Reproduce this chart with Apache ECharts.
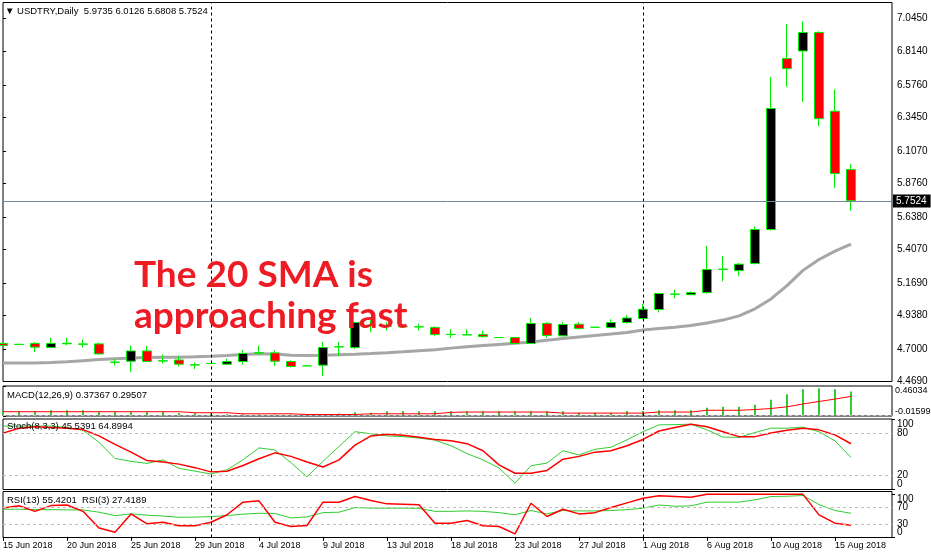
<!DOCTYPE html>
<html><head><meta charset="utf-8">
<script src="https://cdn.jsdelivr.net/npm/echarts@6/dist/echarts.min.js"></script>
<style>html,body{margin:0;padding:0;background:#fff}#c{width:931px;height:559px}</style>
</head><body><div id="c"></div>
<script>
// ---------- DATA ----------
const symbolName = 'USDTRY,Daily';
const barDates = ['15 Jun 2018','17 Jun 2018','18 Jun 2018','19 Jun 2018','20 Jun 2018','21 Jun 2018','22 Jun 2018','24 Jun 2018','25 Jun 2018','26 Jun 2018','27 Jun 2018','28 Jun 2018','29 Jun 2018',
 '1 Jul 2018','2 Jul 2018','3 Jul 2018','4 Jul 2018','5 Jul 2018','6 Jul 2018','8 Jul 2018','9 Jul 2018','10 Jul 2018','11 Jul 2018','12 Jul 2018','13 Jul 2018','15 Jul 2018','16 Jul 2018','17 Jul 2018','18 Jul 2018','19 Jul 2018','20 Jul 2018','22 Jul 2018','23 Jul 2018','24 Jul 2018','25 Jul 2018','26 Jul 2018','27 Jul 2018','29 Jul 2018','30 Jul 2018','31 Jul 2018',
 '1 Aug 2018','2 Aug 2018','3 Aug 2018','5 Aug 2018','6 Aug 2018','7 Aug 2018','8 Aug 2018','9 Aug 2018','10 Aug 2018','12 Aug 2018','13 Aug 2018','14 Aug 2018','15 Aug 2018','16 Aug 2018'];
const opens  = [4.739,4.732,4.739,4.711,4.737,4.736,4.736,4.605,4.613,4.686,4.614,4.622,4.586,4.597,4.592,4.611,4.671,4.672,4.611,4.580,4.585,4.714,4.710,4.868,4.861,4.858,4.856,4.852,4.802,4.800,4.803,4.781,4.781,4.739,4.881,4.793,4.876,4.854,4.852,4.888,4.916,4.980,5.088,5.085,5.101,5.265,5.257,5.307,5.548,6.762,6.816,6.947,6.388,5.9735];
const closes = [4.725,4.733,4.713,4.739,4.741,4.733,4.665,4.607,4.686,4.611,4.616,4.592,4.588,4.597,4.611,4.668,4.673,4.613,4.576,4.580,4.710,4.716,4.888,4.870,4.863,4.858,4.858,4.803,4.804,4.801,4.789,4.781,4.739,4.881,4.796,4.874,4.845,4.854,4.888,4.920,4.982,5.094,5.090,5.100,5.264,5.267,5.302,5.548,6.407,6.691,6.947,6.336,5.946,5.7524];
const lows   = [4.720,4.728,4.679,4.705,4.727,4.710,4.660,4.583,4.537,4.611,4.597,4.575,4.558,4.595,4.590,4.590,4.660,4.580,4.569,4.578,4.509,4.650,4.700,4.820,4.830,4.850,4.830,4.790,4.780,4.799,4.780,4.779,4.735,4.739,4.780,4.790,4.840,4.852,4.850,4.880,4.910,4.960,5.060,5.083,5.091,5.181,5.220,5.300,5.540,6.561,6.454,6.282,5.844,5.6808];
const highs  = [4.745,4.738,4.750,4.779,4.779,4.767,4.745,4.629,4.725,4.720,4.661,4.652,4.603,4.600,4.630,4.692,4.725,4.690,4.620,4.582,4.750,4.750,4.890,4.910,4.890,4.866,4.880,4.860,4.840,4.840,4.830,4.784,4.785,4.920,4.890,4.890,4.890,4.856,4.911,4.940,5.020,5.094,5.120,5.110,5.432,5.359,5.310,5.570,6.632,7.006,7.027,6.956,6.544,6.0126];
const sma20  = [4.601,4.601,4.601,4.604,4.609,4.617,4.625,4.631,4.636,4.639,4.641,4.642,4.644,4.648,4.653,4.660,4.666,4.664,4.656,4.654,4.655,4.659,4.662,4.667,4.673,4.680,4.688,4.695,4.706,4.716,4.724,4.732,4.740,4.750,4.762,4.774,4.785,4.796,4.806,4.817,4.835,4.846,4.855,4.866,4.885,4.905,4.935,4.985,5.055,5.150,5.258,5.335,5.395,5.444];
const macdMain   = [0.060,0.058,0.064,0.075,0.075,0.075,0.047,0.047,0.047,0.047,0.047,0.030,0.030,0.025,0.013,0.013,0.008,0.008,0.006,0.001,0.005,0.025,0.042,0.036,0.058,0.064,0.058,0.058,0.058,0.058,0.058,0.058,0.058,0.058,0.058,0.058,0.036,0.036,0.036,0.064,0.064,0.075,0.075,0.075,0.114,0.130,0.130,0.164,0.242,0.331,0.409,0.426,0.409,0.37367];
const macdSignal = [0.052,0.052,0.052,0.052,0.052,0.052,0.052,0.052,0.052,0.052,0.052,0.052,0.036,0.036,0.036,0.019,0.019,0.019,0.019,0.008,0.008,0.008,0.008,0.019,0.019,0.019,0.019,0.019,0.042,0.047,0.047,0.047,0.047,0.047,0.047,0.030,0.030,0.030,0.030,0.030,0.030,0.047,0.047,0.047,0.075,0.075,0.075,0.086,0.103,0.130,0.175,0.214,0.253,0.29507];
const stochMain   = [90,90,90,90,88,84,67,44,40,37,42,30,26,22,28,42,59,56,38,18,40,61,82,79,76,75,73,70,62,51,42,30.4,9,33.7,37.5,55,49,57,60,70.5,82,91.7,92,92.7,84.6,74.3,74,80.8,87,87,88.4,82,69,45.5391];
const stochSignal = [80,87,89,88,87,85,76,64,53,41,39,36,31,25,26,34,43.6,52,47,39,32,42,63,76,78.5,77,74,71,69,65,55,35,23,23,27,43,47,53,55,62,71,83,88,92.7,89,82,75,75,80,84,87,84.6,77.5,64.8994];
const rsi13 = [65,65,64,64,63.5,63.5,58,50,54,51,49,46,46.5,47.5,50,53.5,55.5,55,44.5,47,57,58,69,67.5,67.5,67.5,67,60,60,61,60,57,52,62,54,62,61,61,62,64,67.5,75,72,73,81.6,81.6,81.6,87,94.9,95.5,97.3,76,62,55.4201];
const rsi3  = [68,73,60,73.5,75,60,21,11,54,30.6,34.5,26,26,34.5,52,81.6,84.7,34.5,24.3,26.7,81.6,81.6,94.9,85.5,77.6,76.5,75.3,32.2,32.2,38.4,26,24.3,7,79,47.8,65,54,57,69,80,91,96.5,95,93.3,100,100,100,100,100,100,100,51.8,32.2,27.4189];
const separatorBars = [13, 40];
const priceTicks = ['4.4690','4.7000','4.9380','5.1690','5.4070','5.6380','5.8760','6.1070','6.3450','6.5760','6.8140','7.0450'];
const macdTicks = [-0.01599, 0.46034];
const oscEdgeTicks = [0, 100];
const stochLevels = [80, 20];
const rsiLevels = [70, 30];
const dateLabelStep = 4;
const noteText = 'The 20 SMA is\napproaching fast';

// ---------- BUILD ----------
const last = closes.length - 1;
const candleData = opens.map((o, i) => [i, o, closes[i], lows[i], highs[i]]);
const idx = a => a.map((v, i) => [i, v]);
const XMAX = 889 / 16;
const FONT = 'Liberation Sans';
const GREEN = '#32cd32';
const sepLines = separatorBars.map(b => ({ xAxis: b, label: { show: false },
  lineStyle: { color: '#000', type: [3, 3], width: 1 } }));
const levelLines = lv => lv.map(v => ({ yAxis: v, label: { show: false },
  lineStyle: { color: '#c0c0c0', type: [3, 3], width: 1 } }));

const gridBase = { left: 3, right: 39, show: true, borderColor: '#000', borderWidth: 1, containLabel: false, outerBoundsMode: 'none' };
const grids = [
  Object.assign({ top: 2.5, height: 379 }, gridBase),
  Object.assign({ top: 386, height: 30 }, gridBase),
  Object.assign({ top: 419, height: 70.5 }, gridBase),
  Object.assign({ top: 491.5, height: 46 }, gridBase)
];
const labelBars = barDates.map((d, k) => k).filter(k => k % dateLabelStep === 0);
const xAxes = grids.map((g, i) => ({
  type: 'value', gridIndex: i, min: 0, max: XMAX,
  splitLine: { show: false }, axisLine: { show: false },
  axisTick: { show: i === 3, length: 4, lineStyle: { color: '#000' }, customValues: labelBars },
  axisLabel: { show: i === 3, align: 'left', margin: 4, color: '#000', fontSize: 9, fontFamily: FONT,
    customValues: labelBars, showMinLabel: true, formatter: v => barDates[Math.round(v)] || '' }
}));
const yBase = (i, min, max, ticks, fmt, size, margin, edgeAlign) => ({
  type: 'value', gridIndex: i, position: 'right', min: min, max: max,
  splitLine: { show: false }, axisLine: { show: false },
  axisTick: { show: true, length: 3, lineStyle: { color: '#000' }, customValues: ticks },
  axisLabel: Object.assign({ show: true, margin: margin, color: '#000', fontSize: size, fontFamily: FONT,
    showMinLabel: true, showMaxLabel: true, hideOverlap: false, customValues: ticks, formatter: fmt },
    edgeAlign ? { verticalAlignMinLabel: 'bottom', verticalAlignMaxLabel: 'top' } : {})
});
const STOCH_RANGE = [0, 100];
const RSI_RANGE = [-1.5, 106.7];
const yAxes = [
  yBase(0, 4.469, 4.469 + 379 * 0.0071003, priceTicks.map(Number), v => v.toFixed(4), 10, 5, false),
  yBase(1, macdTicks[0], macdTicks[1], macdTicks, v => v.toFixed(5), 9, 3, true),
  yBase(2, STOCH_RANGE[0], STOCH_RANGE[1], stochLevels, v => String(v), 10, 5, false),
  yBase(3, RSI_RANGE[0], RSI_RANGE[1], rsiLevels, v => String(v), 10, 5, false),
  yBase(2, STOCH_RANGE[0], STOCH_RANGE[1], oscEdgeTicks, v => String(v), 10, 5, true),
  yBase(3, RSI_RANGE[0], RSI_RANGE[1], oscEdgeTicks, v => String(v), 10, 5, true)
];

const header = '\u25BC ' + symbolName + '  ' + opens[last].toFixed(4) + ' ' + highs[last].toFixed(4) + ' ' + lows[last].toFixed(4) + ' ' + closes[last].toFixed(4);
const small = { fontFamily: FONT, fontSize: 9.5, fontWeight: 'normal', color: '#000' };

const option = {
  animation: false,
  backgroundColor: '#fff',
  grid: grids,
  xAxis: xAxes,
  yAxis: yAxes,
  title: [
    { text: header, left: 5, top: 6, padding: 0, textStyle: small },
    { text: 'MACD(12,26,9) ' + macdMain[last].toFixed(5) + ' ' + macdSignal[last].toFixed(5), left: 7, top: 390, padding: 0, textStyle: small },
    { text: 'Stoch(8,3,3) ' + stochMain[last].toFixed(4) + ' ' + stochSignal[last].toFixed(4), left: 7, top: 421, padding: 0, textStyle: small },
    { text: 'RSI(13) ' + rsi13[last].toFixed(4) + '  RSI(3) ' + rsi3[last].toFixed(4), left: 7, top: 495, padding: 0, textStyle: small },
    { text: noteText, left: 134, top: 255, padding: 0, z: 20,
      textStyle: { fontFamily: 'Lato', fontSize: 37, fontWeight: 'bold', color: '#ed1c24', lineHeight: 41 } }
  ],
  series: [
    { type: 'line', xAxisIndex: 0, yAxisIndex: 0, data: idx(sma20), symbol: 'none', z: 2,
      lineStyle: { color: '#a6a6a6', width: 3 } },
    { type: 'candlestick', xAxisIndex: 0, yAxisIndex: 0, data: candleData, barWidth: 9, z: 3, clip: true,
      itemStyle: { color: '#000', color0: '#ff0000', borderColor: '#00ee00', borderColor0: '#00ee00', borderWidth: 1 },
      markLine: { symbol: ['none', 'none'], silent: true, animation: false,
        data: sepLines.concat([{ yAxis: closes[last], lineStyle: { color: '#778899', type: 'solid', width: 1 },
          label: { show: true, position: 'end', distance: 1, formatter: closes[last].toFixed(4), color: '#fff', backgroundColor: '#000',
            padding: [2, 4, 1, 3], fontSize: 10, fontFamily: FONT } }]) } },
    { type: 'bar', xAxisIndex: 1, yAxisIndex: 1, data: idx(macdMain), barWidth: 2, itemStyle: { color: GREEN },
      markLine: { symbol: ['none', 'none'], silent: true, data: sepLines.concat(levelLines([0])) } },
    { type: 'line', xAxisIndex: 1, yAxisIndex: 1, data: idx(macdSignal), symbol: 'none', lineStyle: { color: '#ff0000', width: 1 } },
    { type: 'line', xAxisIndex: 2, yAxisIndex: 2, data: idx(stochMain), symbol: 'none', lineStyle: { color: GREEN, width: 1 },
      markLine: { symbol: ['none', 'none'], silent: true, data: sepLines.concat(levelLines(stochLevels)) } },
    { type: 'line', xAxisIndex: 2, yAxisIndex: 2, data: idx(stochSignal), symbol: 'none', lineStyle: { color: '#ff0000', width: 1.5 } },
    { type: 'line', xAxisIndex: 3, yAxisIndex: 3, data: idx(rsi13), symbol: 'none', lineStyle: { color: GREEN, width: 1 },
      markLine: { symbol: ['none', 'none'], silent: true, data: sepLines.concat(levelLines(rsiLevels)) } },
    { type: 'line', xAxisIndex: 3, yAxisIndex: 3, data: idx(rsi3), symbol: 'none', lineStyle: { color: '#ff0000', width: 1.5 } }
  ]
};
const chart = echarts.init(document.getElementById('c'), null, { renderer: 'canvas' });
chart.setOption(option);
</script></body></html>
